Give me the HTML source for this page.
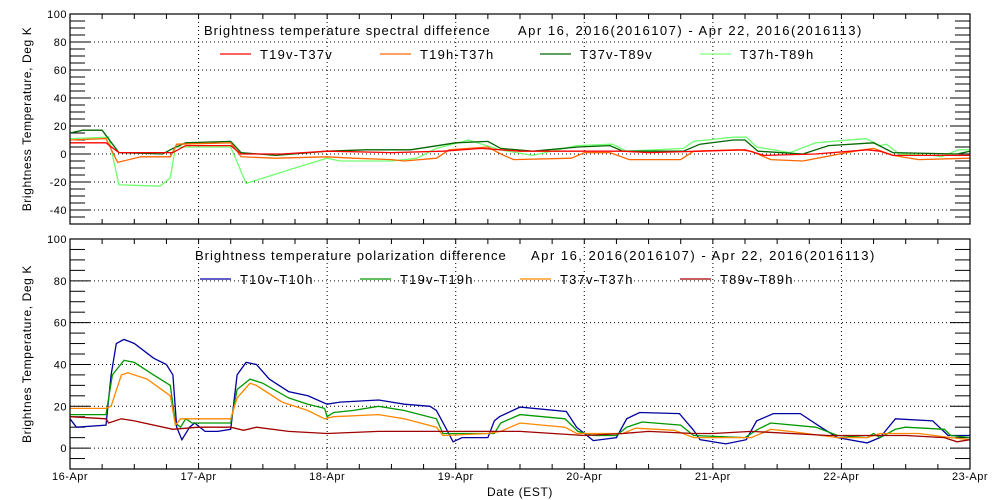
<!DOCTYPE html>
<html><head><meta charset="utf-8">
<style>
body{margin:0;background:#fff;}
svg{display:block;font-family:"Liberation Sans",sans-serif;}
.ttl{letter-spacing:1px;}
.rng{letter-spacing:1.5px;}
.leg{letter-spacing:1.2px;}
.yt{letter-spacing:0.6px;}
.tk{letter-spacing:0.5px;}
</style></head>
<body>
<svg id="chart" width="1000" height="500" viewBox="0 0 1000 500" xmlns="http://www.w3.org/2000/svg"></svg>
<script>
// x-axis categories (days)
const dayLabels = ["16-Apr","17-Apr","18-Apr","19-Apr","20-Apr","21-Apr","22-Apr","23-Apr"];
const topTicks = [-40,-20,0,20,40,60,80,100];
const botTicks = [0,20,40,60,80,100];

// Top panel series: times (days since 16-Apr) and values
const t1937vT = [0,0.28,0.38,0.8,0.9,1.25,1.33,1.65,2.0,2.5,2.9,3.2,3.35,3.5,4.3,4.5,4.9,5.25,5.4,5.8,6.2,6.3,6.4,7.0];
const t1937vV = [8,8,1,1,6,6,0,0,2,1,2,4,3,2,2,1,2,3,-1,0,3,2,-1,-1];
const t1937hT = [0,0.28,0.37,0.55,0.78,0.83,1.25,1.33,1.6,2.0,2.2,2.5,2.6,2.85,2.95,3.25,3.35,3.45,3.9,4.0,4.2,4.35,4.75,4.85,5.2,5.3,5.45,5.7,6.1,6.25,6.4,6.6,7.0];
const t1937hV = [10,11,-6,-2,-2,7,8,-2,-3,-2,-3,-4,-5,-3,3,5,0,-4,-3,1,1,-4,-4,2,3,2,-4,-5,2,4,-1,-4,-3];
const t3789vT = [0,0.1,0.25,0.38,0.72,0.8,0.9,1.25,1.33,1.6,2.0,2.3,2.65,3.0,3.25,3.35,3.6,3.95,4.2,4.3,4.77,4.9,5.16,5.25,5.35,5.7,5.9,6.25,6.4,6.9,7.0];
const t3789vV = [15,17,17,1,0,4,8,9,1,-1,2,3,3,8,9,4,2,5,6,2,2,7,10,10,2,0,6,8,1,0,2];
const t3789hT = [0,0.3,0.38,0.7,0.78,0.82,1.25,1.37,1.75,2.0,2.1,2.5,2.7,2.85,3.1,3.34,3.6,3.94,4.22,4.33,4.77,4.85,5.16,5.26,5.34,5.6,5.8,6.19,6.3,6.35,6.45,6.71,6.78,6.91,7.0];
const t3789hV = [11,12,-22,-23,-17,5,5,-21,-10,-3,-5,-5,-3,4,10,3,-1,6,7,2,4,9,12,12,5,1,8,11,6,7,0,-1,-2,3,3];

// Bottom panel series
const p10T = [0,0.05,0.28,0.32,0.36,0.42,0.5,0.65,0.75,0.8,0.83,0.87,0.93,0.97,1.05,1.15,1.25,1.3,1.37,1.45,1.55,1.7,1.85,2.0,2.1,2.4,2.6,2.8,2.85,2.92,2.98,3.05,3.25,3.3,3.34,3.5,3.86,3.94,4.07,4.25,4.33,4.43,4.74,4.85,4.9,5.1,5.26,5.34,5.47,5.68,5.84,5.97,6.2,6.3,6.42,6.71,6.83,7.0];
const p10V = [14,10,11,35,50,52,50,43,40,35,10,4,10,12,8,8,9,35,41,40,33,27,25,21,22,23,21,20,18,10,3,5,5,13,15,19.6,17.5,10,3.6,5,14,17,16.5,8.5,4,2,4,13,16.5,16.5,10,5,2.5,5,14,13,6,6];
const p19T = [0,0.28,0.33,0.42,0.5,0.65,0.78,0.82,0.86,0.9,0.95,1.25,1.3,1.4,1.5,1.7,1.85,1.98,2.0,2.05,2.2,2.4,2.6,2.85,2.9,3.3,3.35,3.5,3.85,3.95,4.07,4.25,4.33,4.45,4.75,4.85,5.25,5.35,5.45,5.8,5.97,6.2,6.25,6.3,6.42,6.5,6.8,6.85,7.0];
const p19V = [16,16,35,42,41,35,30,12,10,14,12,12,28,33,31,24,21,19,15,17,18,20,18,14,7,7,12,16,14,8,6,6,10,12.5,11,6,5,9,12,10,6,5,7,5,9,10,9,6,5];
const p37T = [0,0.28,0.32,0.4,0.45,0.6,0.78,0.82,0.86,1.25,1.3,1.4,1.45,1.65,1.85,1.98,2.05,2.4,2.6,2.85,2.9,3.25,3.35,3.5,3.85,3.94,4.3,4.4,4.7,4.85,5.3,5.45,5.6,5.97,6.2,6.3,6.6,6.85,7.0];
const p37V = [19,19,20,35,36,33,25,11,14,14,24,31,30,22,18,14,15,16,14,10,6,7,8,12,10,7,7,9.5,8.5,5,5,9,8,5,5,7,7,5,4];
const p89T = [0,0.28,0.3,0.4,0.5,0.8,1.0,1.25,1.35,1.45,1.7,2.0,2.4,2.85,3.0,3.3,3.5,4.0,4.3,4.5,4.85,5.0,5.3,5.9,6.2,6.5,6.8,6.9,7.0];
const p89V = [15,14,12,14,13,9,10,10,8.5,10,8,7,8,8,8,8,8,6,7,8,7,7,8,6,6,6,5,3,4];

const NS="http://www.w3.org/2000/svg";
const svg=document.getElementById('chart');
function mk(tag,attrs,parent){const e=document.createElementNS(NS,tag);for(const k in attrs)e.setAttribute(k,attrs[k]);(parent||svg).appendChild(e);return e;}

const X0=70,X1=970;
const xS=d=>X0+(X1-X0)*d/7;

function panel(name,top,bot,vmin,vmax,ticks,ytitle,title1,title2,titleY,legend,series){
  const g=mk('g',{});
  
  
  const yS=v=>bot-(v-vmin)*(bot-top)/(vmax-vmin);
  ticks.forEach(v=>{ if(v>vmin&&v<vmax){const l=mk('line',{x1:X0,x2:X1,y1:yS(v),y2:yS(v),stroke:'#000','stroke-width':1,'stroke-dasharray':'1,3'},g);
    }});
  for(let d=1;d<7;d++){const l=mk('line',{x1:xS(d),x2:xS(d),y1:top,y2:bot,stroke:'#000','stroke-width':1,'stroke-dasharray':'1,3'},g);
    }
  for(let v=vmin;v<=vmax;v+=5){const len=(ticks.indexOf(v)>=0)?20:15;
    mk('line',{x1:X0,x2:X0+len,y1:yS(v),y2:yS(v),stroke:'#000'},g);
    mk('line',{x1:X1,x2:X1-len,y1:yS(v),y2:yS(v),stroke:'#000'},g);}
  for(let q=1;q<28;q++){const x=xS(q/4);
    mk('line',{x1:x,x2:x,y1:bot,y2:bot-5,stroke:'#000'},g);
    mk('line',{x1:x,x2:x,y1:top,y2:top+5,stroke:'#000'},g);}
  ticks.forEach(v=>{const t=mk('text',{x:X0-3,y:yS(v)+4,'text-anchor':'end','font-size':11,class:'tk'},g);t.textContent=v;
    });
  const yt=mk('text',{x:0,y:0,'text-anchor':'middle','font-size':12,class:'yt',transform:`translate(31,${(top+bot)/2}) rotate(-90)`},g);
  yt.textContent=ytitle;
  const t1=mk('text',{x:title1[1],y:titleY,'font-size':13,class:'ttl'},g);t1.textContent=title1[0];
  
  const t2=mk('text',{x:title2[1],y:titleY,'font-size':13,class:'rng'},g);t2.textContent=title2[0];
  
  series.forEach(s=>{
    const pts=s.t.map((d,i)=>xS(d).toFixed(1)+','+yS(s.v[i]).toFixed(1)).join(' ');
    const p=mk('polyline',{points:pts,fill:'none',stroke:s.c,'stroke-width':1.3},g);
    
  });
  legend.forEach((l,i)=>{
    const lg=mk('g',{},g);
    
    mk('line',{x1:l.x,x2:l.x+31,y1:titleY+19,y2:titleY+19,stroke:l.c,'stroke-width':1.3},lg);
    const tx=mk('text',{x:l.x+40,y:titleY+24,'font-size':13,class:'leg'},lg);tx.textContent=l.n;
  });
  const fr=mk('rect',{x:X0,y:top,width:X1-X0,height:bot-top,fill:'none',stroke:'#000','stroke-width':1.2},g);
  
}

panel('spectral-difference-panel',14,224,-50,100,topTicks,'Brightness Temperature, Deg K',
 ['Brightness temperature spectral difference',204],['Apr 16, 2016(2016107) - Apr 22, 2016(2016113)',518],35,
 [{x:220,c:'#ff0000',n:'T19v-T37v'},{x:380,c:'#ff6600',n:'T19h-T37h'},{x:540,c:'#006600',n:'T37v-T89v'},{x:700,c:'#80ff80',n:'T37h-T89h'}],
 [{t:t3789hT,v:t3789hV,c:'#70ff70',n:'t37h-t89h'},{t:t3789vT,v:t3789vV,c:'#006600',n:'t37v-t89v'},{t:t1937hT,v:t1937hV,c:'#ff6600',n:'t19h-t37h'},{t:t1937vT,v:t1937vV,c:'#ff0000',n:'t19v-t37v'}]);

panel('polarization-difference-panel',239,469,-10,100,botTicks,'Brightnes Temperature, Deg K',
 ['Brightness temperature polarization difference',195],['Apr 16, 2016(2016107) - Apr 22, 2016(2016113)',531],260,
 [{x:200,c:'#0000a0',n:'T10v-T10h'},{x:360,c:'#009900',n:'T19v-T19h'},{x:520,c:'#ff8800',n:'T37v-T37h'},{x:680,c:'#a00000',n:'T89v-T89h'}],
 [{t:p10T,v:p10V,c:'#0000a0',n:'t10v-t10h'},{t:p19T,v:p19V,c:'#009900',n:'t19v-t19h'},{t:p37T,v:p37V,c:'#ff8800',n:'t37v-t37h'},{t:p89T,v:p89V,c:'#a00000',n:'t89v-t89h'}]);

dayLabels.forEach((s,i)=>{const t=mk('text',{x:xS(i),y:480,'text-anchor':'middle','font-size':11,class:'tk'});t.textContent=s;
  });
const xt=mk('text',{x:520,y:496,'text-anchor':'middle','font-size':12,class:'yt'});xt.textContent='Date (EST)';

</script>
</body></html>
